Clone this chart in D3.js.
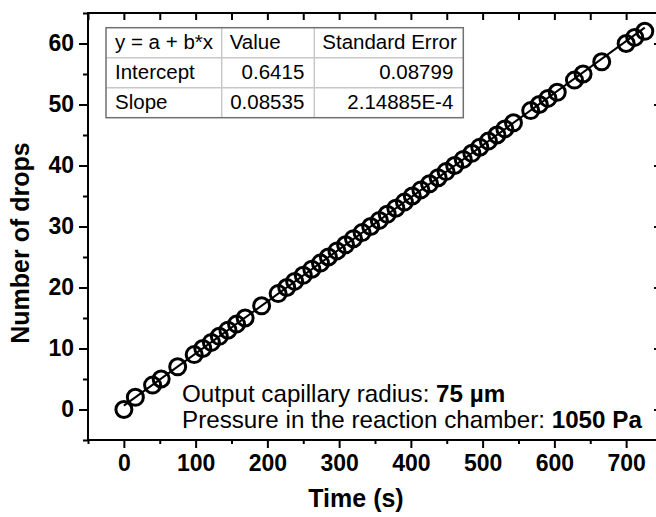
<!DOCTYPE html>
<html>
<head>
<meta charset="utf-8">
<script src="https://cdn.jsdelivr.net/npm/d3@7/dist/d3.min.js"></script>
<style>
  html, body { margin: 0; padding: 0; background: #fff; }
  svg { display: block; }
  text { font-family: "Liberation Sans", Arial, sans-serif; }
</style>
</head>
<body>
<svg id="chart" width="656" height="517"></svg>
<script>
// ---- data ----
const times = [0, 16, 40, 52, 75, 98, 110, 122, 133, 145, 157, 169, 192,
  215, 227, 238, 250, 262, 274, 285, 297, 309, 320, 332, 344, 356, 367, 379, 391,
  402, 414, 426, 438, 449, 461, 473, 485, 496, 508, 520, 531, 543,
  567, 579, 591, 604, 628, 640, 666, 700, 712, 726];
const drops = [0, 2, 4, 5, 7, 9, 10, 11, 12, 13, 14, 15, 17,
  19, 20, 21, 22, 23, 24, 25, 26, 27, 28, 29, 30, 31, 32, 33, 34,
  35, 36, 37, 38, 39, 40, 41, 42, 43, 44, 45, 46, 47,
  49, 50, 51, 52, 54, 55, 57, 60, 61, 62];
const fitParams = ["Intercept", "Slope"];
const fitValues = [0.6415, 0.08535];
const fitErrors = ["0.08799", "2.14885E-4"];
const fitValueLabels = ["0.6415", "0.08535"];
const tableHeader = ["y = a + b*x", "Value", "Standard Error"];
const xTicks = [0, 100, 200, 300, 400, 500, 600, 700];
const yTicks = [0, 10, 20, 30, 40, 50, 60];
const xDomain = [-50, 750];
const yDomain = [-5, 65];

// ---- layout ----
const svg = d3.select("#chart");
const L = 88, R = 662, T = 13, B = 440;
const x = d3.scaleLinear().domain(xDomain).range([L, R]);
const y = d3.scaleLinear().domain(yDomain).range([B, T]);
const FONT = '"Liberation Sans", Arial, sans-serif';

const xMinor = d3.range(xDomain[0], xDomain[1] + 1, 50).filter(v => v % 100 !== 0);
const yMinor = d3.range(yDomain[0], yDomain[1] + 1, 5).filter(v => v % 10 !== 0);

function styleAxis(g) {
  g.select(".domain").remove();
  g.selectAll(".tick line").attr("stroke", "#000").attr("stroke-width", 2);
  g.selectAll("text").attr("font-family", FONT).attr("font-weight", "bold")
    .attr("font-size", 23).attr("fill", "#000");
}

// bottom axis
svg.append("g").attr("transform", `translate(0,${B})`)
  .call(d3.axisBottom(x).tickValues(xTicks).tickSize(8).tickPadding(7).tickFormat(d3.format("d")))
  .call(styleAxis);
svg.append("g").attr("transform", `translate(0,${B})`)
  .call(d3.axisBottom(x).tickValues(xMinor).tickSize(4).tickFormat(""))
  .call(styleAxis);
// top axis (inward)
svg.append("g").attr("transform", `translate(0,${T})`)
  .call(d3.axisBottom(x).tickValues(xTicks.concat(xMinor)).tickSize(7).tickFormat(""))
  .call(styleAxis);
// left axis
svg.append("g").attr("transform", `translate(${L},0)`)
  .call(d3.axisLeft(y).tickValues(yTicks).tickSize(9).tickPadding(5).tickFormat(d3.format("d")))
  .call(styleAxis);
svg.append("g").attr("transform", `translate(${L},0)`)
  .call(d3.axisLeft(y).tickValues(yMinor).tickSize(5).tickFormat(""))
  .call(styleAxis);
// right axis (inward)
svg.append("g").attr("transform", `translate(${R},0)`)
  .call(d3.axisLeft(y).tickValues(yTicks).tickSize(8).tickFormat(""))
  .call(styleAxis);
svg.append("g").attr("transform", `translate(${R},0)`)
  .call(d3.axisLeft(y).tickValues(yMinor).tickSize(4).tickFormat(""))
  .call(styleAxis);

// frame
svg.append("rect").attr("x", L).attr("y", T).attr("width", R - L).attr("height", B - T)
  .attr("fill", "none").attr("stroke", "#000").attr("stroke-width", 2);

// fit line
const tExt = d3.extent(times);
const fitLine = tExt.map(t => [t, fitValues[0] + fitValues[1] * t]);
svg.append("path").datum(fitLine)
  .attr("d", d3.line().x(d => x(d[0])).y(d => y(d[1])))
  .attr("stroke", "#000").attr("stroke-width", 2).attr("fill", "none");

// points
svg.append("g").selectAll("circle").data(times.map((t, i) => [t, drops[i]]))
  .join("circle")
  .attr("cx", d => x(d[0])).attr("cy", d => y(d[1])).attr("r", 8)
  .attr("fill", "none").attr("stroke", "#000").attr("stroke-width", 3);

// table
const tx = 106, ty = 27.7, rowH = 30;
const colX = [106, 221.7, 314.3, 463.3];
const tg = svg.append("g");
tg.append("rect").attr("x", tx).attr("y", ty).attr("width", colX[3] - tx).attr("height", rowH * 3)
  .attr("fill", "#fff").attr("stroke", "none");
[1, 2].forEach(r => tg.append("line").attr("x1", tx).attr("x2", colX[3])
  .attr("y1", ty + r * rowH).attr("y2", ty + r * rowH).attr("stroke", "#c8c8c8").attr("stroke-width", 1.5));
[1, 2].forEach(c => tg.append("line").attr("x1", colX[c]).attr("x2", colX[c])
  .attr("y1", ty).attr("y2", ty + 3 * rowH).attr("stroke", "#c8c8c8").attr("stroke-width", 1.5));
tg.append("rect").attr("x", tx).attr("y", ty).attr("width", colX[3] - tx).attr("height", rowH * 3)
  .attr("fill", "none").attr("stroke", "#707070").attr("stroke-width", 1.5);
const tfs = 20.5;
function cell(txt, xx, row, anchor) {
  tg.append("text").attr("x", xx).attr("y", ty + row * rowH + 21)
    .attr("font-size", tfs).attr("text-anchor", anchor).attr("fill", "#000").text(txt);
}
cell(tableHeader[0], colX[0] + 9, 0, "start");
cell(tableHeader[1], colX[1] + 8, 0, "start");
cell(tableHeader[2], colX[2] + 8, 0, "start");
fitParams.forEach((p, i) => {
  cell(p, colX[0] + 9, i + 1, "start");
  cell(fitValueLabels[i], colX[2] - 10, i + 1, "end");
  cell(fitErrors[i], colX[3] - 10, i + 1, "end");
});

// annotations
const a1 = svg.append("text").attr("x", 182).attr("y", 402).attr("font-size", 24.2).attr("fill", "#000");
a1.append("tspan").text("Output capillary radius: ");
a1.append("tspan").attr("font-weight", "bold").text("75 \u00b5m");
const a2 = svg.append("text").attr("x", 182).attr("y", 428).attr("font-size", 24.2).attr("fill", "#000");
a2.append("tspan").text("Pressure in the reaction chamber: ");
a2.append("tspan").attr("font-weight", "bold").text("1050 Pa");

// axis titles
svg.append("text").attr("x", 356).attr("y", 507).attr("text-anchor", "middle")
  .attr("font-size", 25).attr("font-weight", "bold").text("Time (s)");
svg.append("text").attr("transform", `translate(29,243) rotate(-90)`).attr("text-anchor", "middle")
  .attr("font-size", 25).attr("font-weight", "bold").text("Number of drops");
</script>
</body>
</html>
